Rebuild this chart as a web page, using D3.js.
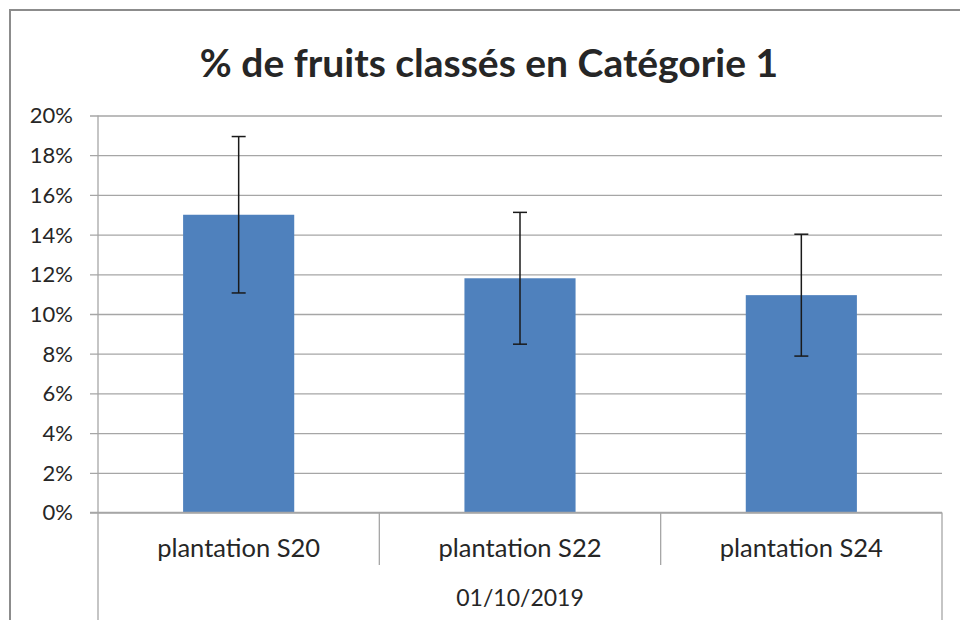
<!DOCTYPE html>
<html>
<head>
<meta charset="utf-8">
<script src="https://cdn.jsdelivr.net/npm/d3@7"></script>
<style>
  html, body { margin: 0; padding: 0; background: #fff; }
  svg { display: block; }
  text { font-family: Lato, "Open Sans", sans-serif; fill: #262626; }
</style>
</head>
<body>
<svg id="chart" width="960" height="620"></svg>
<script>
const title = "% de fruits classés en Catégorie 1";
const categories = ["plantation S20", "plantation S22", "plantation S24"];
const values = [15.0, 11.8, 10.95];
const errors = [3.94, 3.32, 3.07];
const groupLabel = "01/10/2019";
const yTicks = [0, 2, 4, 6, 8, 10, 12, 14, 16, 18, 20];

const svg = d3.select("#chart");
const W = 960, H = 620;
const plot = { left: 98, right: 942, top: 115.5, bottom: 512.5 };

// outer chart border (top + left visible)
svg.append("rect")
  .attr("x", 10).attr("y", 10)
  .attr("width", W + 20).attr("height", H + 20)
  .attr("fill", "#fff")
  .attr("stroke", "#8c8c8c").attr("stroke-width", 2);

const x = d3.scaleBand().domain(categories).range([plot.left, plot.right]).padding(0);
const y = d3.scaleLinear().domain([0, 20]).range([plot.bottom, plot.top]);

// gridlines + ticks
const yAxis = d3.axisLeft(y)
  .tickValues(yTicks)
  .tickFormat(d => d + "%")
  .tickSize(-(plot.right - plot.left))
  .tickPadding(18);
const gy = svg.append("g").attr("transform", `translate(${plot.left},0)`).call(yAxis);
gy.select(".domain").remove();
gy.selectAll(".tick line")
  .attr("x1", -8)
  .attr("stroke", "#a6a6a6").attr("stroke-width", 1.3);
gy.selectAll(".tick text")
  .attr("x", -25)
  .attr("dy", "0.34em")
  .style("font-size", "22px")
  .style("font-family", "Lato, sans-serif")
  .attr("fill", "#262626");

// bars
const barW = x.bandwidth() * 0.395;
svg.append("g").selectAll("rect")
  .data(categories)
  .join("rect")
  .attr("x", (d) => x(d) + x.bandwidth() / 2 - barW / 2)
  .attr("y", (d, i) => y(values[i]))
  .attr("width", barW)
  .attr("height", (d, i) => y(0) - y(values[i]))
  .attr("fill", "#4f81bd");

// error bars
const eg = svg.append("g").attr("stroke", "#1a1a1a").attr("stroke-width", 1.5);
categories.forEach((c, i) => {
  const cx = x(c) + x.bandwidth() / 2;
  const hi = y(values[i] + errors[i]), lo = y(values[i] - errors[i]);
  eg.append("line").attr("x1", cx).attr("x2", cx).attr("y1", hi).attr("y2", lo);
  eg.append("line").attr("x1", cx - 7).attr("x2", cx + 7).attr("y1", hi).attr("y2", hi);
  eg.append("line").attr("x1", cx - 7).attr("x2", cx + 7).attr("y1", lo).attr("y2", lo);
});

// category axis (multi-level)
const axisColor = "#a6a6a6";
const ax = svg.append("g").attr("stroke", axisColor).attr("stroke-width", 1.3);
ax.append("line").attr("x1", plot.left - 8).attr("x2", plot.right).attr("y1", plot.bottom).attr("y2", plot.bottom);
ax.append("line").attr("x1", plot.left).attr("x2", plot.left).attr("y1", plot.top).attr("y2", H + 5);
ax.append("line").attr("x1", plot.right).attr("x2", plot.right).attr("y1", plot.bottom).attr("y2", H + 5);
categories.slice(1).forEach(c => {
  ax.append("line").attr("x1", x(c)).attr("x2", x(c)).attr("y1", plot.bottom).attr("y2", 565);
});

svg.append("g").selectAll("text")
  .data(categories)
  .join("text")
  .attr("x", d => x(d) + x.bandwidth() / 2)
  .attr("y", 557)
  .attr("text-anchor", "middle")
  .style("font-size", "25.5px")
  .text(d => d);

svg.append("text")
  .attr("x", (plot.left + plot.right) / 2)
  .attr("y", 606)
  .attr("text-anchor", "middle")
  .style("font-size", "23px")
  .text(groupLabel);

// title
svg.append("text")
  .attr("x", 489)
  .attr("y", 77)
  .attr("text-anchor", "middle")
  .style("font-size", "39px")
  .style("font-weight", "bold")
  .attr("fill", "#000")
  .text(title);
</script>
</body>
</html>
